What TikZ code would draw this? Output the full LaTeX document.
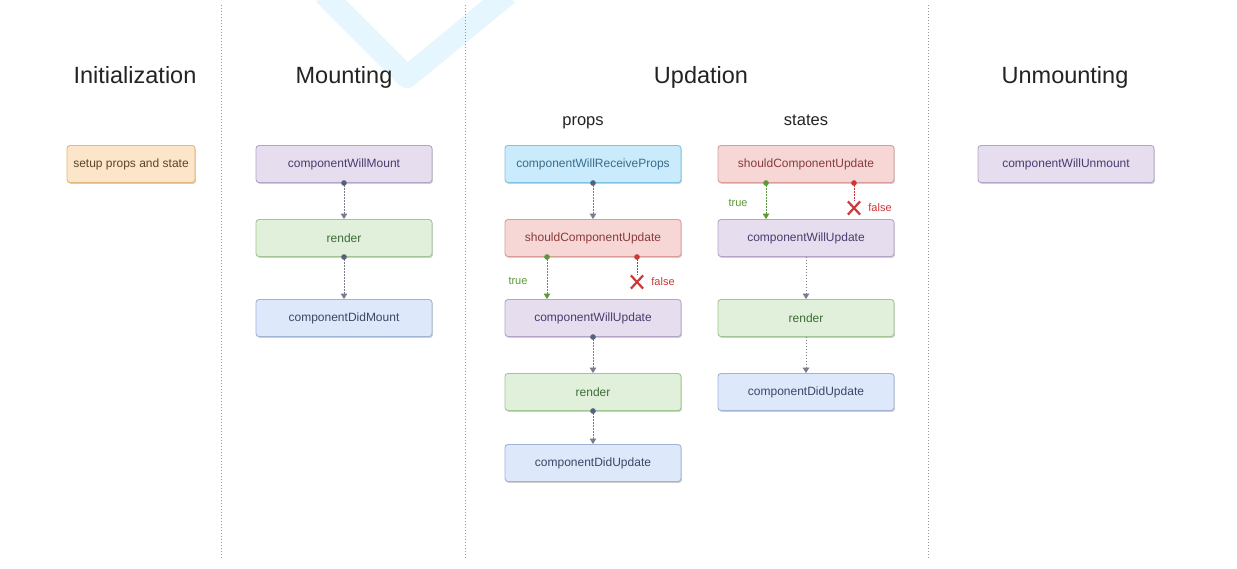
\documentclass[tikz,border=0pt]{standalone}
\usepackage{fontspec}
\setmainfont{Liberation Sans}
\usetikzlibrary{arrows.meta,shapes.misc,shadows}
\definecolor{wmark}{RGB}{230,246,254}
\definecolor{sepc}{RGB}{150,150,150}
\definecolor{titlec}{RGB}{35,35,35}
\definecolor{orF}{RGB}{252,229,200}
\definecolor{orD}{RGB}{225,185,125}
\definecolor{orT}{RGB}{90,70,45}
\definecolor{puF}{RGB}{230,222,238}
\definecolor{puD}{RGB}{180,165,200}
\definecolor{puT}{RGB}{72,60,110}
\definecolor{grF}{RGB}{225,240,218}
\definecolor{grD}{RGB}{162,198,146}
\definecolor{grT}{RGB}{62,107,55}
\definecolor{blF}{RGB}{222,232,251}
\definecolor{blD}{RGB}{160,180,218}
\definecolor{blT}{RGB}{58,71,102}
\definecolor{cyF}{RGB}{201,235,251}
\definecolor{cyD}{RGB}{128,194,226}
\definecolor{cyT}{RGB}{59,108,140}
\definecolor{piF}{RGB}{246,215,213}
\definecolor{piD}{RGB}{216,156,153}
\definecolor{piT}{RGB}{138,59,59}
\definecolor{flowc}{RGB}{120,125,140}
\definecolor{dotc}{RGB}{85,98,125}
\definecolor{truec}{RGB}{94,150,58}
\definecolor{falsec}{RGB}{205,55,55}
\begin{document}
\begin{tikzpicture}[x=1pt,y=-1pt,
  box/.style={draw, rounded corners=3pt, line width=0.9pt, minimum width=176pt,
    minimum height=37pt, inner sep=0pt, font=\fontsize{12pt}{14pt}\selectfont,
    drop shadow={shadow xshift=0.9pt, shadow yshift=-1.4pt, opacity=0.35, fill=black!55}},
  orbox/.style={box, fill=orF, draw=orD, text=orT, minimum width=128pt},
  pubox/.style={box, fill=puF, draw=puD, text=puT},
  grbox/.style={box, fill=grF, draw=grD, text=grT},
  blbox/.style={box, fill=blF, draw=blD, text=blT},
  cybox/.style={box, fill=cyF, draw=cyD, text=cyT},
  pibox/.style={box, fill=piF, draw=piD, text=piT},
  phase/.style={anchor=base, text=titlec, font=\fontsize{23.5pt}{27pt}\selectfont},
  subphase/.style={anchor=base, text=titlec, font=\fontsize{16.5pt}{19pt}\selectfont},
  sepline/.style={draw=sepc, line width=0.8pt, dash pattern=on 1pt off 2pt},
  flow/.style={draw=flowc, line width=0.9pt, dash pattern=on 1.3pt off 1.7pt,
    {Circle[length=5.5pt,color=dotc]}-{Triangle[length=5.5pt,width=6.5pt,color=flowc]},
    shorten <=-2.7pt},
  flownodot/.style={draw=flowc, line width=0.9pt, dash pattern=on 1.3pt off 1.7pt,
    -{Triangle[length=5.5pt,width=6.5pt,color=flowc]}},
  trueflow/.style={draw=truec, line width=0.9pt, dash pattern=on 1.3pt off 1.7pt,
    {Circle[length=5.5pt,color=truec]}-{Triangle[length=5.5pt,width=6.5pt,color=truec]},
    shorten <=-2.7pt},
  falseflow/.style={draw=falsec, line width=0.9pt, dash pattern=on 1.3pt off 1.7pt,
    {Circle[length=5.5pt,color=falsec]}-, shorten <=-2.7pt},
  crossx/.style={cross out, draw=falsec, line width=2.2pt, minimum width=10pt,
    minimum height=11pt, inner sep=0pt},
  truelbl/.style={text=truec, font=\fontsize{11pt}{13pt}\selectfont},
  falselbl/.style={text=falsec, font=\fontsize{11pt}{13pt}\selectfont}
]
\useasboundingbox (0,0) rectangle (1237,568);
\fill[white] (0,0) rectangle (1237,568);
% watermark
\draw[wmark, line width=22pt, line join=round] (324,-6) -- (407,77) -- (508,-6);

% separators
\draw[sepline] (221,5) -- (221,558);
\draw[sepline] (465,5) -- (465,558);
\draw[sepline] (928,5) -- (928,558);

% titles
\node[phase] (tInit) at (135,83) {Initialization};
\node[phase] (tMount) at (344,83) {Mounting};
\node[phase] (tUpd) at (701,83) {Updation};
\node[phase] (tUnm) at (1065,83) {Unmounting};
\node[subphase] (tProps) at (583,125) {props};
\node[subphase] (tStates) at (806,125) {states};

% Initialization
\node[orbox] (setup) at (131,164) {setup props and state};

% Mounting
\node[pubox] (cwm) at (344,164) {componentWillMount};
\node[grbox] (renM) at (344,238) {render};
\node[blbox] (cdm) at (344,318) {componentDidMount};

% Updation - props
\node[cybox] (cwrp) at (593,164) {componentWillReceiveProps};
\node[pibox] (scuP) at (593,238) {shouldComponentUpdate};
\node[pubox] (cwuP) at (593,318) {componentWillUpdate};
\node[grbox] (renP) at (593,392) {render};
\node[blbox] (cduP) at (593,463) {componentDidUpdate};

% Updation - states
\node[pibox] (scuS) at (806,164) {shouldComponentUpdate};
\node[pubox] (cwuS) at (806,238) {componentWillUpdate};
\node[grbox] (renS) at (806,318) {render};
\node[blbox] (cduS) at (806,392) {componentDidUpdate};

% Unmounting
\node[pubox] (cwum) at (1066,164) {componentWillUnmount};

% mounting flow
\draw[flow] (cwm.south) -- (renM.north);
\draw[flow] (renM.south) -- (cdm.north);

% props flow
\draw[flow] (cwrp.south) -- (scuP.north);
\draw[trueflow] ([xshift=-46pt]scuP.south) -- ([xshift=-46pt]cwuP.north);
\node[crossx] (xP) at (637,282) {};
\draw[falseflow] ([xshift=44pt]scuP.south) -- (xP.north);
\node[truelbl] (tlP) at (518,281) {true};
\node[falselbl] (flP) at (663,282) {false};
\draw[flow] (cwuP.south) -- (renP.north);
\draw[flow] (renP.south) -- (cduP.north);

% states flow
\draw[trueflow] ([xshift=-40pt]scuS.south) -- ([xshift=-40pt]cwuS.north);
\node[crossx] (xS) at (854,208) {};
\draw[falseflow] ([xshift=48pt]scuS.south) -- (xS.north);
\node[truelbl] (tlS) at (738,203) {true};
\node[falselbl] (flS) at (880,208) {false};
\draw[flownodot] (cwuS.south) -- (renS.north);
\draw[flownodot] (renS.south) -- (cduS.north);
\end{tikzpicture}
\end{document}
